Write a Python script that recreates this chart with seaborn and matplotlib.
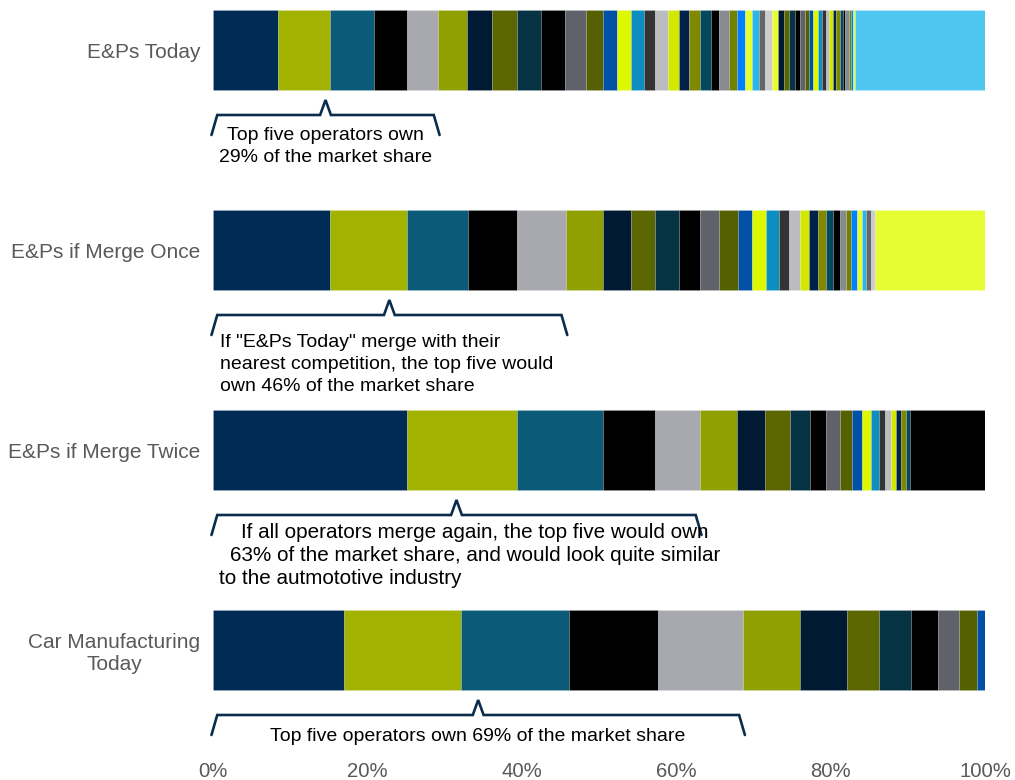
import numpy as np
import matplotlib
matplotlib.use("Agg")
import matplotlib.pyplot as plt
import seaborn as sns

# ---------------- data ----------------
categories = ["E&Ps Today", "E&Ps if Merge Once", "E&Ps if Merge Twice", "Car Manufacturing\nToday"]

today_shares = [8.42, 6.77, 5.66, 4.28, 4.02, 3.79, 3.24, 3.16, 3.15, 3.14, 2.69, 2.20,
                1.84, 1.79, 1.64, 1.50, 1.61, 1.42, 1.38, 1.38, 1.39, 1.07, 1.26, 1.11,
                1.00, 0.91, 0.91, 0.77, 0.87, 0.82,
                0.77, 0.65, 0.78, 0.65, 0.68, 0.48, 0.52, 0.65, 0.52, 0.51, 0.39, 0.48,
                0.43, 0.48, 0.43, 0.26, 0.51, 0.26, 0.30, 0.22]
merge_once_shares = [15.19, 9.98, 7.83, 6.34, 6.35, 4.83, 3.59, 3.18, 3.03, 2.76, 2.50, 2.39,
                     1.85, 1.77, 1.73, 1.33, 1.43, 1.16, 1.17, 0.99, 0.91, 0.91, 0.74, 0.72,
                     0.70, 0.65, 0.56, 0.61, 0.59]
merge_twice_shares = [25.17, 14.21, 11.18, 6.69, 5.83, 4.83, 3.63, 3.20, 2.53, 2.07, 1.94,
                      1.43, 1.36, 1.16, 1.00, 0.77, 0.78, 0.73, 0.61, 0.61, 0.52]
car_shares = [16.93, 15.19, 13.99, 11.58, 11.01, 7.34, 6.12, 4.14, 4.07, 3.58, 2.72, 2.25, 1.08]

other_shares = [16.84, 14.21, 9.75, 0.0]
other_colors = ["#4FC6F0", "#E5FD32", "#000000", "#FFFFFF"]

palette = ["#002B54", "#A1B300", "#0B5A78", "#000000", "#A7A9AF", "#8FA000",
           "#001A33", "#5C6600", "#063344", "#000000", "#5F6269", "#556000",
           "#0050A5", "#DDF800", "#0D8EC0", "#333333", "#BBBCC0", "#D2E800",
           "#00224A", "#808800", "#05495F", "#000000", "#888A92", "#738000",
           "#007FFF", "#E6FF33", "#2BB5EA", "#666666", "#CCCCCC", "#E5FF30"]

xticks = [0, 20, 40, 60, 80, 100]
xtick_labels = ["0%", "20%", "40%", "60%", "80%", "100%"]

top_five = [29.15, 45.69, 63.08, 68.70]
notes = [
    [("Top five operators own", "center"), ("29% of the market share", "center")],
    [("If \"E&Ps Today\" merge with their", "left"),
     ("nearest competition, the top five would", "left"),
     ("own 46% of the market share", "left")],
    [("If all operators merge again, the top five would own", "center"),
     ("63% of the market share, and would look quite similar", "center"),
     ("to the autmototive industry", "left")],
    [("Top five operators own 69% of the market share", "center")],
]
note_offsets = [0.425, 0.46, 0.41, 0.43]
note_sizes = [14.0, 14.0, 14.9, 14.0]

# ---------------- style ----------------
sns.set_theme(style="white")
plt.rcParams["font.family"] = ["Liberation Sans", "DejaVu Sans"]

fig = plt.figure(figsize=(10.15, 7.8), dpi=100)
ax = fig.add_axes([213 / 1015, 1 - 755 / 780, (985 - 213) / 1015, 755 / 780])

all_shares = [today_shares, merge_once_shares, merge_twice_shares, car_shares]
bar_h = 0.4

for i, shares in enumerate(all_shares):
    left = 0.0
    for k, v in enumerate(shares):
        ci = k if k < len(palette) else 6 + (k - len(palette)) % 24
        ax.barh(i, v, left=left, height=bar_h, color=palette[ci],
                edgecolor=(1, 1, 1, 0.18), linewidth=0.5)
        left += v
    if other_shares[i] > 0:
        ax.barh(i, other_shares[i], left=left, height=bar_h, color=other_colors[i],
                edgecolor=(1, 1, 1, 0.18), linewidth=0.5)

# brackets and notes
bracket_color = "#0C2C4E"
for i, t5 in enumerate(top_five):
    mid = t5 / 2
    ys_end = i + 0.425
    ys_h = i + 0.325
    ys_peak = i + 0.25
    xs = [-0.2, 0.55, mid - 0.7, mid, mid + 0.7, t5 - 0.55, t5 + 0.2]
    ys = [ys_end, ys_h, ys_h, ys_peak, ys_h, ys_h, ys_end]
    ax.plot(xs, ys, color=bracket_color, lw=1.9, solid_joinstyle="miter",
            clip_on=False)
    step = 0.115 if i == 2 else 0.11
    for j, (line, align) in enumerate(notes[i]):
        y = i + note_offsets[i] + j * step
        if align == "center":
            x = 33.9 if i == 2 else mid
        else:
            x = 0.85 if i == 1 else 0.75
        ax.text(x, y, line, ha=align, va="center", fontsize=note_sizes[i],
                color="#000000")

ax.set_xlim(0, 100)
ax.set_ylim(3.525, -0.25)
ax.set_xticks(xticks)
ax.set_xticklabels(xtick_labels, fontsize=14.6, color="#595959")
ax.set_yticks(range(len(categories)))
ax.set_yticklabels(categories, fontsize=15.0, color="#595959")
for lab in ax.get_yticklabels():
    lab.set_multialignment("center")
ax.tick_params(axis="both", length=0)
ax.tick_params(axis="y", pad=9)
ax.tick_params(axis="x", pad=5)
sns.despine(ax=ax, left=True, bottom=True)
ax.grid(False)
ax.set_facecolor("white")

fig.savefig("out.png", dpi=100, facecolor="white")
